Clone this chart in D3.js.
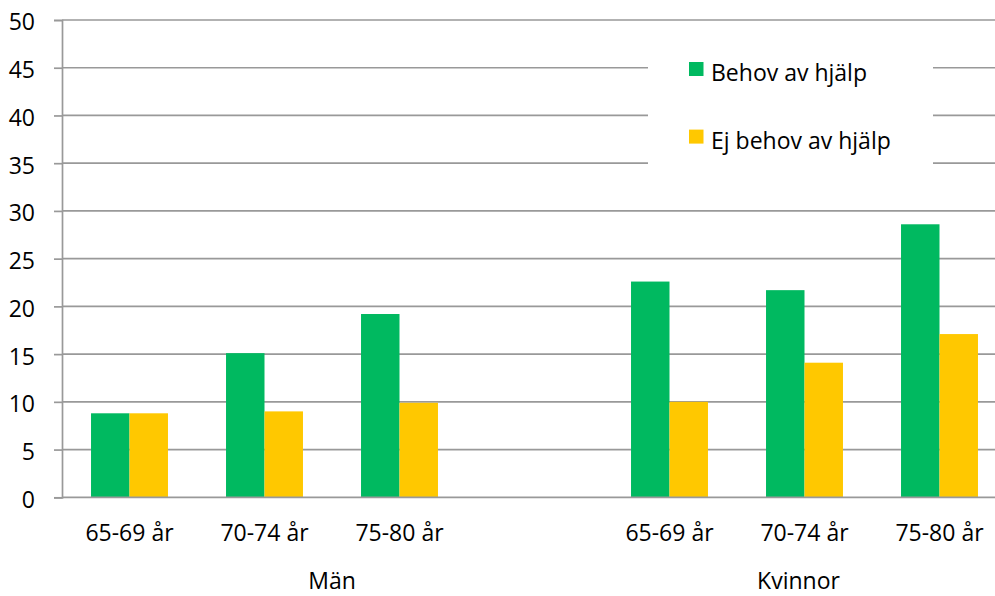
<!DOCTYPE html>
<html>
<head>
<meta charset="utf-8">
<script src="https://cdn.jsdelivr.net/npm/d3@7"></script>
<style>
  html, body { margin: 0; padding: 0; background: #fff; }
  svg { display: block; }
  text { font-family: "Open Sans", "Noto Sans", sans-serif; fill: #000; }
</style>
</head>
<body>
<svg id="chart" width="995" height="596"></svg>
<script>
// ---- data ----
const groups = ["Män", "Kvinnor"];
const ageLabels = ["65-69 år", "70-74 år", "75-80 år", "", "65-69 år", "70-74 år", "75-80 år"];
const groupOf = [0, 0, 0, 0, 1, 1, 1];
const seriesNames = ["Behov av hjälp", "Ej behov av hjälp"];
const behov = [8.8, 15.1, 19.2, null, 22.6, 21.7, 28.6];
const ejBehov = [8.8, 9.0, 9.9, null, 10.0, 14.1, 17.1];
const yTicks = [0, 5, 10, 15, 20, 25, 30, 35, 40, 45, 50];
const colors = ["#00b960", "#ffc800"];

// ---- layout ----
const W = 995, H = 596;
const mLeft = 62, mRight = 1007, mTop = 20, mBottom = 497.3;
const svg = d3.select("#chart");

const idx = ageLabels.map((d, i) => i);
const x = d3.scaleBand().domain(idx).range([mLeft, mRight]).paddingInner(0.43).paddingOuter(0.215);
const xs = d3.scaleBand().domain([0, 1]).range([0, x.bandwidth()]);
const y = d3.scaleLinear().domain([0, 50]).range([mBottom, mTop]);

// gridlines
svg.append("g").selectAll("line").data(yTicks.filter(d => d > 0)).join("line")
  .attr("x1", mLeft).attr("x2", W)
  .attr("y1", d => y(d)).attr("y2", d => y(d))
  .attr("stroke", "#999").attr("stroke-width", 1.7);

// bars
const series = [behov, ejBehov];
series.forEach((vals, s) => {
  svg.append("g").selectAll("rect").data(idx.filter(i => vals[i] != null)).join("rect")
    .attr("x", i => x(i) + xs(s))
    .attr("width", xs.bandwidth())
    .attr("y", i => y(vals[i]))
    .attr("height", i => y(0) - y(vals[i]))
    .attr("fill", colors[s]);
});

// y axis
const yAxis = d3.axisLeft(y).tickValues(yTicks).tickSize(8).tickPadding(19).tickFormat(d3.format("d"));
const gy = svg.append("g").attr("transform", `translate(${mLeft},0)`).call(yAxis);
gy.select(".domain").attr("stroke", "#999").attr("stroke-width", 1.7);
gy.selectAll(".tick line").attr("stroke", "#999").attr("stroke-width", 1.7);
gy.selectAll(".tick text").attr("font-size", 23).attr("dy", "0.43em")
  .style("font-family", "'Open Sans', sans-serif").attr("fill", "#000");

// x axis baseline
svg.append("line").attr("x1", mLeft).attr("x2", W).attr("y1", y(0)).attr("y2", y(0))
  .attr("stroke", "#999").attr("stroke-width", 1.7);

// category labels
svg.append("g").selectAll("text").data(idx.filter(i => ageLabels[i] !== "")).join("text")
  .attr("x", i => x(i) + x.bandwidth() / 2)
  .attr("y", 541)
  .attr("text-anchor", "middle")
  .attr("font-size", 23)
  .text(i => ageLabels[i]);

// group labels
const gap = (x.step() - x.bandwidth()) / 2;
groups.forEach((g, gi) => {
  const members = idx.filter(i => groupOf[i] === gi);
  const a = Math.max(x(members[0]) - gap, mLeft);
  const b = Math.min(x(members[members.length - 1]) + x.bandwidth() + gap, W);
  svg.append("text")
    .attr("x", (a + b) / 2)
    .attr("y", 589)
    .attr("text-anchor", "middle")
    .attr("font-size", 23)
    .text(g);
});

// legend
const lg = svg.append("g");
lg.append("rect").attr("x", 648).attr("y", 42).attr("width", 285).attr("height", 135).attr("fill", "#fff");
seriesNames.forEach((n, i) => {
  const yy = 62 + i * 67.6;
  lg.append("rect").attr("x", 689).attr("y", yy).attr("width", 14.5).attr("height", 14)
    .attr("fill", colors[i]);
  lg.append("text").attr("x", 711).attr("y", yy + 19).attr("font-size", 23).text(n);
});
</script>
</body>
</html>
